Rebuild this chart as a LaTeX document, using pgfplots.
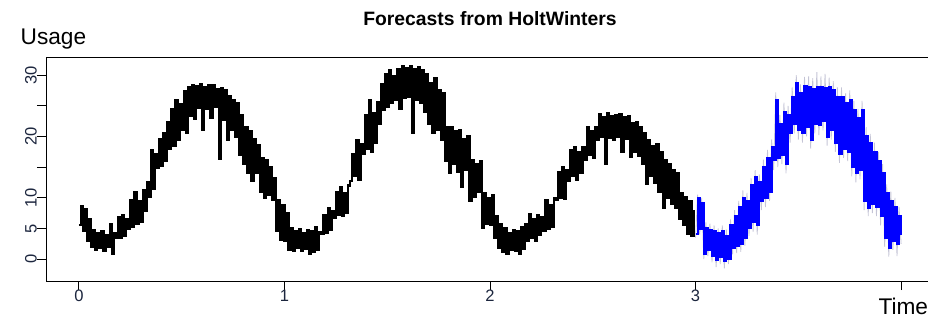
\documentclass[border=0pt]{standalone}
\usepackage{fontspec}
\setmainfont{Liberation Sans}
\usepackage{pgfplots}
\usepackage{pgfplotstable}
\pgfplotsset{compat=1.18}

\definecolor{ticktext}{RGB}{28,38,62}
\definecolor{piband}{RGB}{196,196,214}
\definecolor{fcblue}{RGB}{0,0,255}

% Observed usage, one value per step of 0.01 time units (t = 0.00 ... 2.99)
\pgfplotstableread[row sep=\\]{
y\\
5.5\\ 8.7\\ 4.6\\ 8.2\\ 3.0\\ 6.5\\ 2.0\\ 4.8\\ 1.5\\ 4.2\\
1.8\\ 4.5\\ 1.4\\ 3.9\\ 2.0\\ 5.8\\ 0.8\\ 4.3\\ 3.4\\ 6.9\\
3.5\\ 7.2\\ 3.8\\ 6.5\\ 5.0\\ 9.6\\ 5.3\\ 11.0\\ 5.8\\ 9.4\\
6.0\\ 11.2\\ 7.8\\ 12.6\\ 10.2\\ 17.8\\ 11.5\\ 17.2\\ 14.8\\ 19.6\\
15.2\\ 20.5\\ 16.0\\ 22.3\\ 18.0\\ 24.5\\ 18.5\\ 26.0\\ 19.5\\ 25.2\\
21.0\\ 27.4\\ 20.5\\ 28.0\\ 23.4\\ 28.4\\ 22.8\\ 28.2\\ 24.6\\ 28.5\\
21.0\\ 28.0\\ 24.5\\ 28.3\\ 23.0\\ 28.4\\ 24.8\\ 27.8\\ 16.3\\ 27.9\\
22.7\\ 27.5\\ 19.5\\ 26.6\\ 21.0\\ 26.0\\ 20.0\\ 25.5\\ 17.0\\ 23.5\\
15.5\\ 21.5\\ 14.0\\ 20.8\\ 12.8\\ 19.5\\ 14.0\\ 18.6\\ 11.0\\ 16.4\\
10.0\\ 16.1\\ 10.5\\ 15.0\\ 9.6\\ 13.2\\ 4.6\\ 9.6\\ 3.2\\ 8.8\\
3.0\\ 7.5\\ 1.5\\ 5.1\\ 1.4\\ 4.6\\ 1.8\\ 4.9\\ 1.3\\ 4.3\\
1.6\\ 4.8\\ 0.8\\ 4.6\\ 1.2\\ 5.2\\ 1.5\\ 4.4\\ 4.1\\ 7.2\\
4.3\\ 8.4\\ 4.8\\ 7.9\\ 6.8\\ 11.0\\ 7.2\\ 11.7\\ 7.0\\ 10.8\\
7.5\\ 12.0\\ 12.8\\ 17.2\\ 13.5\\ 19.4\\ 12.9\\ 18.8\\ 17.2\\ 23.5\\
18.0\\ 26.0\\ 17.5\\ 23.8\\ 19.0\\ 25.6\\ 22.0\\ 28.5\\ 24.3\\ 30.2\\
24.8\\ 30.9\\ 25.5\\ 29.8\\ 26.0\\ 31.0\\ 24.5\\ 31.4\\ 26.2\\ 31.2\\
26.4\\ 31.5\\ 20.5\\ 31.0\\ 26.0\\ 31.3\\ 25.5\\ 30.8\\ 24.0\\ 30.2\\
22.0\\ 28.7\\ 20.5\\ 29.5\\ 21.0\\ 27.5\\ 19.5\\ 27.0\\ 16.0\\ 21.6\\
14.0\\ 21.6\\ 15.5\\ 20.8\\ 14.2\\ 21.0\\ 11.8\\ 19.5\\ 14.5\\ 20.0\\
9.5\\ 16.1\\ 10.2\\ 15.5\\ 11.0\\ 16.0\\ 5.1\\ 10.7\\ 5.8\\ 10.0\\
5.5\\ 10.5\\ 3.5\\ 7.0\\ 1.8\\ 5.8\\ 1.2\\ 5.0\\ 0.9\\ 4.2\\
1.5\\ 4.8\\ 1.3\\ 4.5\\ 0.9\\ 5.2\\ 1.6\\ 5.8\\ 3.0\\ 7.4\\
3.4\\ 6.5\\ 3.0\\ 7.2\\ 4.0\\ 6.8\\ 4.6\\ 9.6\\ 5.0\\ 8.8\\
5.2\\ 10.0\\ 9.6\\ 14.2\\ 10.0\\ 15.0\\ 9.8\\ 14.5\\ 12.8\\ 17.8\\
13.5\\ 18.3\\ 12.9\\ 17.5\\ 14.0\\ 18.2\\ 16.1\\ 21.6\\ 17.0\\ 20.8\\
16.5\\ 21.5\\ 19.4\\ 23.6\\ 20.0\\ 23.2\\ 15.6\\ 23.8\\ 19.8\\ 23.4\\
19.5\\ 23.5\\ 20.0\\ 23.7\\ 17.5\\ 23.2\\ 19.6\\ 23.4\\ 16.6\\ 22.1\\
17.5\\ 22.4\\ 16.8\\ 21.5\\ 15.5\\ 20.5\\ 12.3\\ 19.4\\ 13.5\\ 18.5\\
12.4\\ 18.8\\ 11.0\\ 17.5\\ 8.4\\ 16.1\\ 10.0\\ 15.5\\ 9.0\\ 14.5\\
8.4\\ 14.0\\ 6.5\\ 10.7\\ 5.5\\ 10.2\\ 4.1\\ 9.5\\ 3.8\\ 8.0\\
}\observed

% Point forecast (t = 3.00 ... 4.00)
\pgfplotstableread[row sep=\\]{
y\\
4.1\\ 9.9\\ 5.0\\ 9.2\\ 0.9\\ 5.1\\ 1.5\\ 4.8\\ 0.5\\ 4.6\\
-0.2\\ 4.2\\ 0.3\\ 4.6\\ -0.3\\ 3.8\\ 0.1\\ 5.5\\ 1.9\\ 7.0\\
2.2\\ 8.5\\ 2.5\\ 10.0\\ 3.5\\ 9.5\\ 5.1\\ 12.0\\ 6.0\\ 13.3\\
5.5\\ 12.5\\ 9.5\\ 15.0\\ 10.0\\ 16.5\\ 11.0\\ 18.3\\ 16.1\\ 26.0\\
16.5\\ 22.0\\ 17.0\\ 24.0\\ 15.5\\ 23.5\\ 20.5\\ 26.5\\ 22.0\\ 28.7\\
21.0\\ 27.0\\ 20.5\\ 28.2\\ 21.6\\ 28.1\\ 19.5\\ 27.8\\ 22.0\\ 28.0\\
21.8\\ 28.1\\ 22.5\\ 27.9\\ 20.0\\ 28.0\\ 21.0\\ 27.5\\ 19.0\\ 26.5\\
17.2\\ 26.5\\ 18.0\\ 25.5\\ 17.5\\ 26.0\\ 15.0\\ 24.3\\ 14.0\\ 23.0\\
14.5\\ 24.3\\ 9.5\\ 20.0\\ 8.4\\ 18.9\\ 9.0\\ 17.5\\ 8.5\\ 16.0\\
7.0\\ 14.0\\ 3.5\\ 10.7\\ 1.9\\ 9.5\\ 3.0\\ 8.5\\ 2.5\\ 7.0\\
4.0\\
}\forecast

% Prediction interval limits around the forecast (t = 3.00 ... 4.00)
\pgfplotstableread[row sep=\\]{
y\\
3.5\\ 10.5\\ 4.0\\ 10.0\\ 0.0\\ 6.0\\ 0.5\\ 5.8\\ -0.5\\ 5.5\\
-1.3\\ 5.0\\ -0.8\\ 5.5\\ -1.5\\ 4.8\\ -0.8\\ 6.5\\ 0.8\\ 8.0\\
1.0\\ 9.5\\ 1.2\\ 11.2\\ 2.2\\ 10.8\\ 3.8\\ 13.2\\ 4.5\\ 14.5\\
4.0\\ 13.8\\ 8.0\\ 16.2\\ 8.5\\ 17.8\\ 9.5\\ 19.5\\ 14.5\\ 27.2\\
15.0\\ 23.5\\ 15.5\\ 25.5\\ 14.0\\ 25.0\\ 19.0\\ 28.0\\ 20.5\\ 30.0\\
19.5\\ 28.5\\ 19.0\\ 29.7\\ 20.0\\ 29.8\\ 18.0\\ 29.5\\ 20.5\\ 30.5\\
20.2\\ 29.8\\ 21.0\\ 30.2\\ 18.5\\ 29.6\\ 19.5\\ 29.0\\ 17.5\\ 28.0\\
15.7\\ 28.0\\ 16.5\\ 27.0\\ 16.0\\ 27.5\\ 13.5\\ 25.8\\ 12.5\\ 24.5\\
13.0\\ 25.8\\ 8.0\\ 21.5\\ 7.0\\ 20.4\\ 7.5\\ 19.0\\ 7.0\\ 17.5\\
5.5\\ 15.5\\ 2.0\\ 12.2\\ 0.4\\ 11.0\\ 1.5\\ 10.0\\ 0.5\\ 8.5\\
2.5\\
}\interval

\begin{document}
\begin{tikzpicture}
\begin{axis}[
  at={(0,0)}, anchor=south west,
  scale only axis,
  width=666pt, height=168pt,
  xmin=-0.16, xmax=4.16,
  ymin=-3.56, ymax=32.95,
  axis line style={line width=0.6pt},
  tick align=outside,
  major tick length=6.75pt,
  tick style={line width=0.6pt, black},
  xtick pos=bottom, ytick pos=left,
  xtick={0,1,2,3,4}, xticklabels={0,1,2,3,{}},
  ytick={0,5,10,15,20,25,30}, yticklabels={0,5,10,{},20,{},30},
  /pgf/number format/assume math mode=true,
  tick label style={font=\fontsize{12.4}{14}\selectfont, text=ticktext, inner sep=0pt},
  xticklabel style={anchor=north},
  yticklabel style={rotate=90, anchor=south},
]
% interval limits as thin strokes, the series as vertical strokes per step
\addplot[piband, line width=0.6pt, line join=bevel]
  table[x expr=3+\coordindex/100, y=y] {\interval};
\addplot[black, const plot, line width=1.6pt]
  table[x expr=\coordindex/100, y=y] {\observed};
\addplot[fcblue, const plot, line width=1.6pt]
  table[x expr=3+\coordindex/100, y=y] {\forecast};
\end{axis}
\node[anchor=base, inner sep=0pt, font=\bfseries\fontsize{14.5}{17}\selectfont]
  at ([yshift=23.5pt]current axis.north) {Forecasts from HoltWinters};
\node[anchor=base west, inner sep=0pt, font=\fontsize{17}{20}\selectfont]
  at ([xshift=-19.2pt, yshift=9pt]current axis.north west) {Usage};
\node[anchor=base west, inner sep=0pt, font=\fontsize{17}{20}\selectfont]
  at ([xshift=624.2pt, yshift=-25pt]current axis.south west) {Time};
\pgfresetboundingbox
\path ([xshift=-34.5pt, yshift=-33.75pt]current axis.south west) rectangle ++(696pt,244.5pt);
\end{tikzpicture}
\end{document}
